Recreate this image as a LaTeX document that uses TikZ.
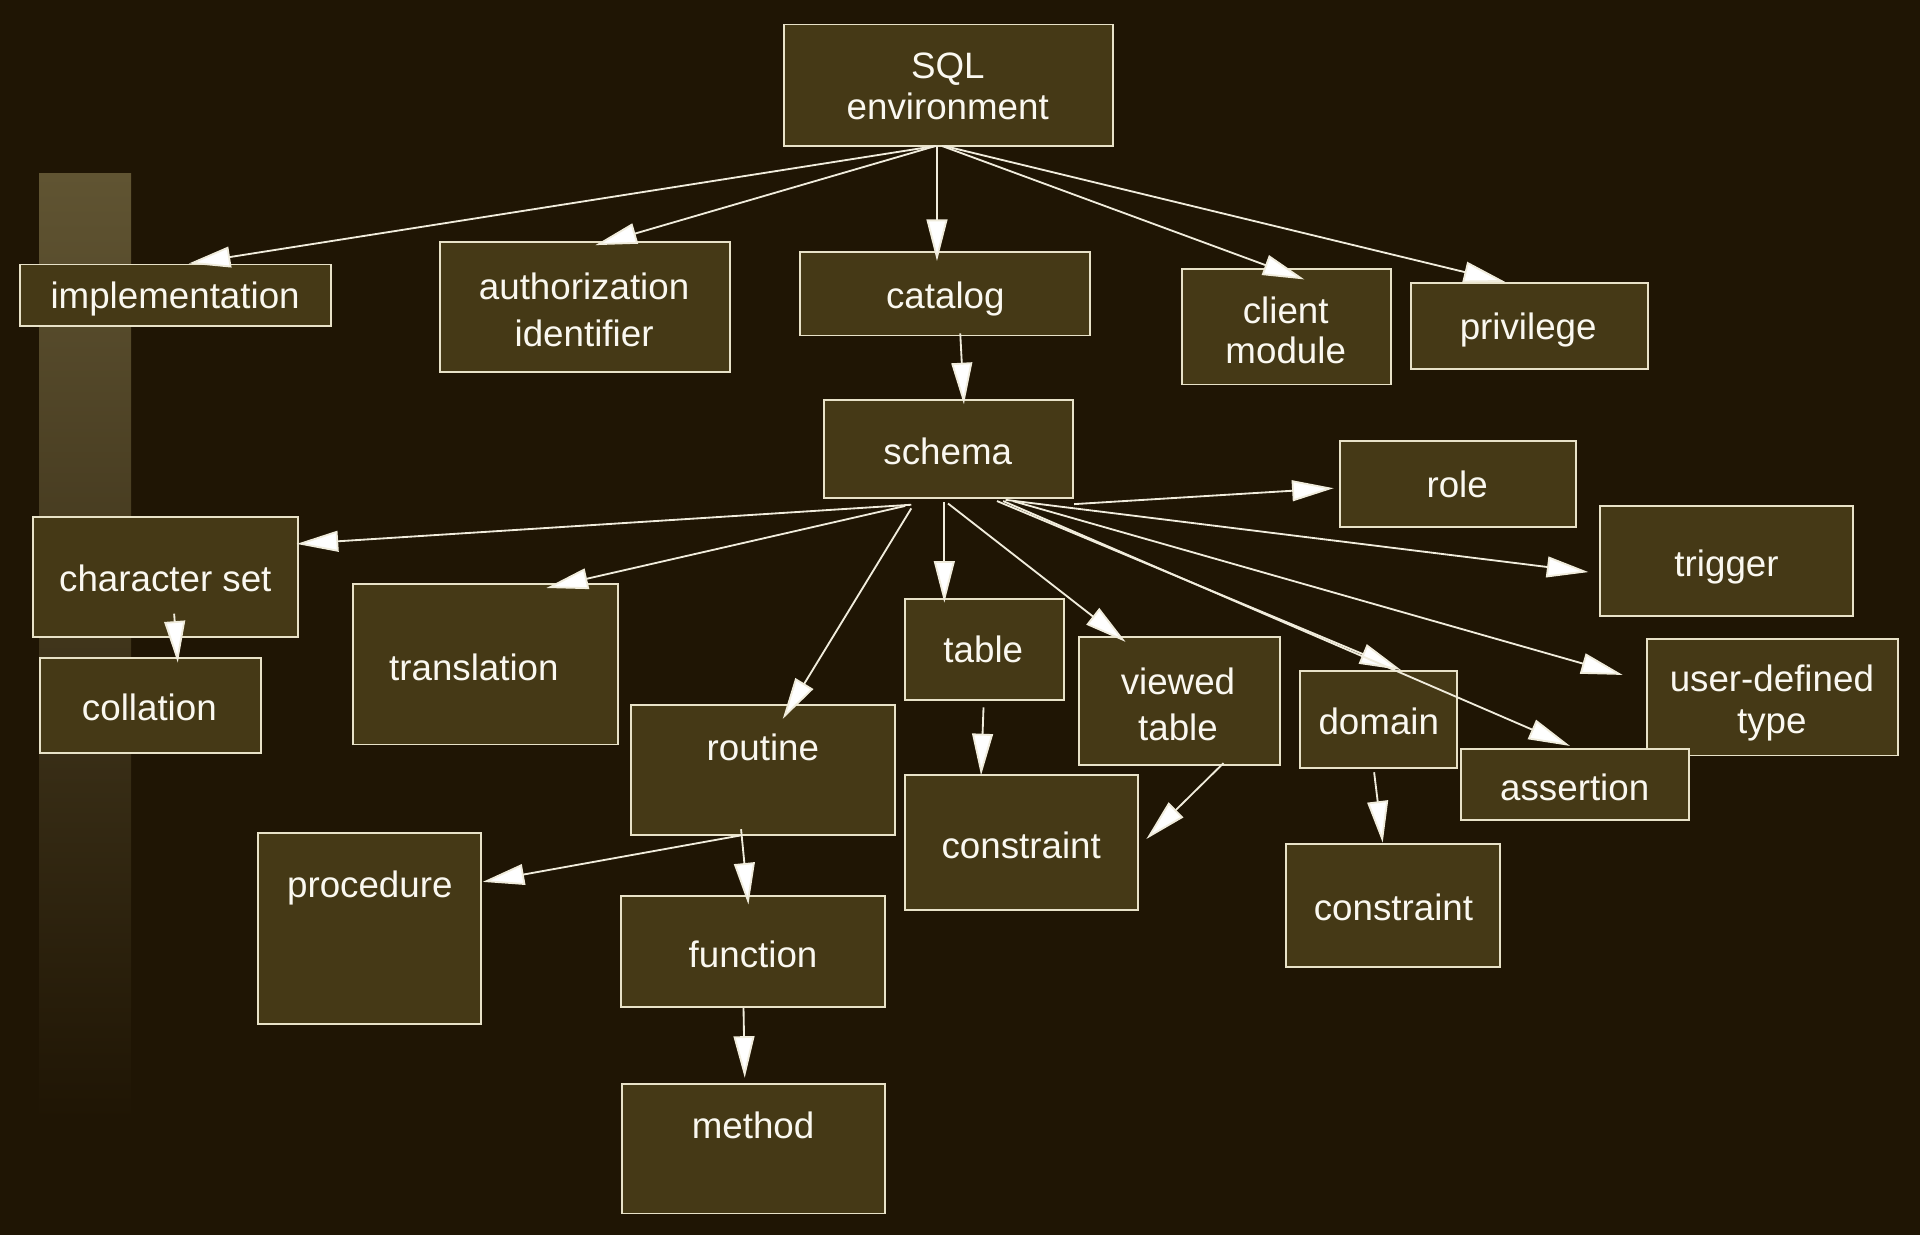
\documentclass[tikz,border=0pt]{standalone}
\usepackage{fontspec}
\setmainfont{Liberation Sans}
\usetikzlibrary{arrows.meta,calc,fit}
\definecolor{bg}{RGB}{31,21,4}
\definecolor{boxfill}{RGB}{69,57,22}
\definecolor{boxline}{RGB}{232,226,200}
\definecolor{arrline}{RGB}{240,236,220}
\definecolor{bartop}{RGB}{96,84,50}
\definecolor{txtcol}{RGB}{250,248,240}
\tikzset{
  box/.style={draw=boxline, fill=boxfill, line width=1.6pt, inner sep=0pt},
  txt/.style={text=txtcol, font=\fontsize{30}{34}\selectfont, inner sep=0pt, anchor=base},
  arr/.style={draw=arrline, line width=1.5pt, -{Triangle[length=34pt, width=17pt, fill=white]}},
}
\newcommand\bx[5]{\node[box, fit={(#2,#3) (#4,#5)}] (#1) {};}
\newcommand\tx[4]{\node[txt] (#1) at (#2,#3) {#4};}
\newcommand\nw[3]{($(#1.north west)+(#2,#3)$)}
\begin{document}
\begin{tikzpicture}[x=1pt, y=-1pt]
\useasboundingbox (0,0) rectangle (1568,1008);
\fill[bg] (-10,-10) rectangle (1578,1018);
% left bar
\shade[top color=bartop, bottom color=bg, shading angle=0] (32,142) rectangle (107,915);

% boxes
\bx{env}{640}{20}{909}{119}
\bx{impl}{16}{216}{270}{266}
\bx{auth}{359}{198}{596}{304}
\bx{cat}{653}{206}{890}{274}
\bx{client}{965}{220}{1136}{314}
\bx{priv}{1152}{231}{1346}{301}
\bx{schema}{673}{327}{876}{407}
\bx{role}{1094}{360}{1287}{430}
\bx{trig}{1307}{413}{1513}{503}
\bx{charset}{27}{422}{243}{520}
\bx{coll}{33}{537}{213}{615}
\bx{trans}{288}{477}{505}{608}
\bx{table}{739}{489}{869}{572}
\bx{viewed}{881}{520}{1045}{625}
\bx{domain}{1062}{548}{1190}{627}
\bx{udt}{1345}{522}{1550}{617}
\bx{assert}{1193}{612}{1379}{670}
\bx{routine}{515}{576}{731}{682}
\bx{consA}{739}{633}{929}{743}
\bx{consB}{1050}{689}{1225}{790}
\bx{proc}{211}{680}{393}{836}
\bx{func}{507}{732}{723}{822}
\bx{method}{508}{885}{723}{991}

% connectors
\draw[arr] \nw{env}{125}{100} -- \nw{impl}{139}{0};
\draw[arr] \nw{env}{125}{100} -- \nw{auth}{128}{3};
\draw[arr] \nw{env}{126}{100} -- \nw{cat}{113}{8};
\draw[arr] \nw{env}{130}{100} -- \nw{client}{101}{9};
\draw[arr] \nw{env}{132}{100} -- \nw{priv}{78}{0};
\draw[arr] \nw{cat}{132}{67} -- \nw{schema}{115}{4};
\draw[arr] \nw{schema}{205}{85.5} -- \nw{role}{-4}{39.5};
\draw[arr] \nw{schema}{72}{86} -- \nw{charset}{216}{23};
\draw[arr] \nw{schema}{67}{87} -- \nw{trans}{159}{4};
\draw[arr] \nw{schema}{72}{89} -- \nw{routine}{125}{12};
\draw[arr] \nw{schema}{99}{84} -- \nw{table}{33}{4};
\draw[arr] \nw{schema}{102}{85} -- \nw{viewed}{39}{5};
\draw[arr] \nw{schema}{142}{83} -- \nw{domain}{83}{0};
\draw[arr] \nw{schema}{147}{83} -- \nw{assert}{90}{-2};
\draw[arr] \nw{schema}{149}{82} -- \nw{trig}{-9}{55};
\draw[arr] \nw{schema}{155}{83} -- \nw{udt}{-19}{30};
\draw[arr] \nw{charset}{116}{80} -- \nw{coll}{113}{5};
\draw[arr] \nw{table}{65}{89.5} -- \nw{consA}{63}{1};
\draw[arr] \nw{viewed}{119}{104} -- \nw{consA}{198}{53};
\draw[arr] \nw{domain}{61}{83.5} -- \nw{consB}{80}{0};
\draw[arr] \nw{routine}{91}{107} -- \nw{proc}{184}{41};
\draw[arr] \nw{routine}{91}{102} -- \nw{func}{105}{7.5};
\draw[arr] \nw{func}{101}{92} -- \nw{method}{101}{-4};

% texts
\tx{envA}{774}{64}{SQL}
\tx{envB}{774}{98}{environment}
\tx{implT}{143}{252}{implementation}
\tx{authA}{477}{245}{authorization}
\tx{authB}{477}{283}{identifier}
\tx{catT}{772}{252}{catalog}
\tx{clientA}{1050}{264}{client}
\tx{clientB}{1050}{297}{module}
\tx{privT}{1248}{277}{privilege}
\tx{schemaT}{774}{379}{schema}
\tx{roleT}{1190}{406}{role}
\tx{trigT}{1410}{471}{trigger}
\tx{charsetT}{135}{483}{character set}
\tx{collT}{122}{588}{collation}
\tx{transT}{387}{556}{translation}
\tx{tableT}{803}{541}{table}
\tx{viewedA}{962}{567}{viewed}
\tx{viewedB}{962}{605}{table}
\tx{domainT}{1126}{600}{domain}
\tx{udtA}{1447}{565}{user-defined}
\tx{udtB}{1447}{599}{type}
\tx{assertT}{1286}{654}{assertion}
\tx{routineT}{623}{621}{routine}
\tx{consAT}{834}{701}{constraint}
\tx{consBT}{1138}{752}{constraint}
\tx{procT}{302}{733}{procedure}
\tx{funcT}{615}{790}{function}
\tx{methodT}{615}{930}{method}
\end{tikzpicture}
\end{document}
